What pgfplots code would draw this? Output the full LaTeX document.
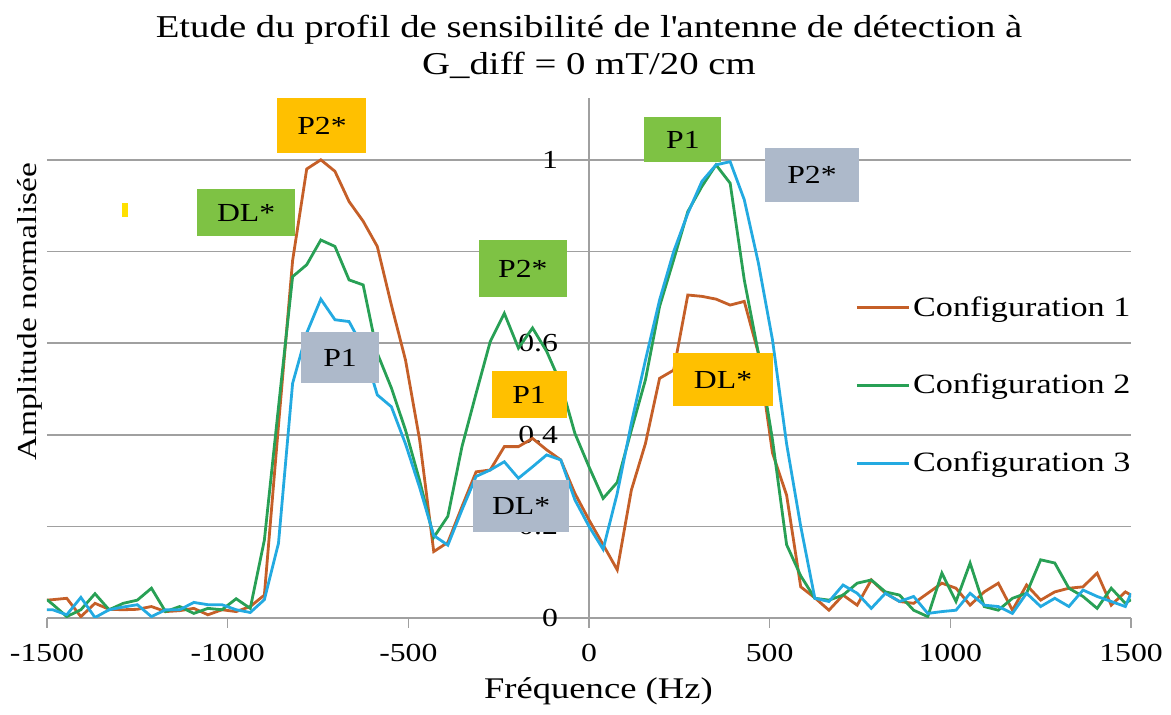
\documentclass[border=0pt]{standalone}
\usepackage{fontspec}
\setmainfont{Liberation Serif}[FakeStretch=1.22]
\usepackage{pgfplots}
\pgfplotsset{compat=1.18}
\usepackage{pgfplotstable}
\definecolor{cA}{RGB}{197,95,40}
\definecolor{cB}{RGB}{40,160,85}
\definecolor{cC}{RGB}{35,170,225}
\definecolor{bxY}{RGB}{255,192,0}
\definecolor{bxG}{RGB}{126,194,68}
\definecolor{bxS}{RGB}{173,185,202}
\definecolor{gridgray}{RGB}{160,160,160}
\definecolor{markY}{RGB}{255,224,0}

\pgfplotstableread{
x c1 c2 c3
-1500 0.039 0.040 0.018
-1484.38 0.040 0.030 0.018
-1445.31 0.043 0.003 0.007
-1406.25 0.003 0.018 0.045
-1367.19 0.032 0.053 0.001
-1328.13 0.019 0.018 0.018
-1289.06 0.018 0.032 0.024
-1250 0.019 0.039 0.029
-1210.94 0.025 0.065 0.003
-1171.88 0.014 0.014 0.018
-1132.81 0.016 0.025 0.018
-1093.75 0.021 0.010 0.034
-1054.69 0.007 0.021 0.029
-1015.63 0.018 0.018 0.029
-976.56 0.014 0.042 0.018
-937.5 0.025 0.021 0.012
-898.44 0.050 0.170 0.040
-859.38 0.420 0.460 0.163
-820.31 0.780 0.745 0.512
-781.25 0.980 0.771 0.622
-742.19 1.000 0.825 0.696
-703.13 0.975 0.811 0.651
-664.06 0.909 0.738 0.647
-625 0.866 0.727 0.590
-585.94 0.811 0.578 0.487
-546.88 0.683 0.502 0.461
-507.81 0.563 0.410 0.380
-468.75 0.389 0.300 0.285
-429.69 0.145 0.176 0.180
-390.63 0.165 0.222 0.159
-351.56 0.243 0.374 0.236
-312.5 0.319 0.490 0.309
-273.44 0.323 0.603 0.323
-234.38 0.374 0.665 0.341
-195.31 0.374 0.589 0.305
-156.25 0.392 0.633 0.330
-117.19 0.367 0.582 0.356
-78.13 0.345 0.512 0.345
-39.06 0.272 0.403 0.258
0 0.214 0.330 0.200
39.06 0.160 0.261 0.150
78.13 0.105 0.296 0.272
117.19 0.279 0.410 0.425
156.25 0.381 0.520 0.563
195.31 0.523 0.680 0.694
234.38 0.541 0.782 0.800
273.44 0.705 0.887 0.883
312.5 0.702 0.942 0.953
351.56 0.696 0.989 0.989
390.63 0.683 0.949 0.996
429.69 0.691 0.738 0.913
468.75 0.578 0.578 0.775
507.81 0.360 0.389 0.607
546.88 0.268 0.160 0.380
585.94 0.068 0.092 0.200
625 0.044 0.043 0.043
664.06 0.017 0.039 0.036
703.13 0.050 0.050 0.072
742.19 0.028 0.076 0.054
781.25 0.083 0.083 0.021
820.31 0.054 0.057 0.054
859.38 0.036 0.050 0.036
898.44 0.032 0.017 0.047
937.5 0.054 0.003 0.010
976.56 0.076 0.098 0.014
1015.63 0.065 0.036 0.017
1054.69 0.028 0.120 0.054
1093.75 0.057 0.025 0.028
1132.81 0.076 0.017 0.025
1171.88 0.017 0.043 0.010
1210.94 0.072 0.054 0.054
1250 0.039 0.127 0.025
1289.06 0.057 0.120 0.043
1328.13 0.065 0.065 0.025
1367.19 0.068 0.047 0.061
1406.25 0.098 0.021 0.047
1445.31 0.028 0.065 0.036
1484.38 0.057 0.032 0.025
1500 0.050 0.040 0.054
}\datatable

\begin{document}
\begin{tikzpicture}
\begin{axis}[
  set layers,
  width=542pt, height=260pt, scale only axis,
  xmin=-1500, xmax=1500, ymin=0, ymax=1.135,
  axis x line=bottom, axis y line=center,
  axis line style={-, draw=gridgray, line width=0.8pt},
  every inner y axis line/.append style={-},
  every inner x axis line/.append style={-},
  xtick={-1500,-1000,-500,0,500,1000,1500},
  ytick={0,0.2,0.4,0.6,0.8,1},
  hide obscured y ticks=false,
  hide obscured x ticks=false,
  xtick align=outside, major tick length=5pt,
  xtick style={draw=gridgray, line width=0.8pt},
  ytick style={draw=none},
  ymajorgrids, grid style={draw=gridgray, line width=0.8pt},
  /pgf/number format/assume math mode=true,
  /pgf/number format/set thousands separator={},
  ticklabel style={font=\fontsize{13}{15}\selectfont},
  yticklabel style={anchor=east, xshift=-9.5pt},
  xticklabel style={yshift=-4.5pt},
  every axis x label/.style={at={(axis cs:26,-0.16)}, anchor=center},
  every axis y label/.style={at={(axis cs:-1548,0.668)}, anchor=center, rotate=90},
  xlabel={Fréquence (Hz)},
  ylabel={Amplitude normalisée},
  xlabel style={font=\fontsize{15}{18}\selectfont},
  ylabel style={font=\fontsize{13.7}{16}\selectfont},
  title={Etude du profil de sensibilité de l\textquotesingle antenne de détection à\\G\_diff = 0 mT/20 cm},
  title style={align=center, font=\fontsize{15.9}{18.5}\selectfont, at={(axis cs:0,1.29)}, anchor=north, inner sep=0pt},
  legend image code/.code={\draw[#1] (0pt,0pt) -- (26pt,0pt);},
  legend cell align=left,
  legend style={at={(axis cs:736,0.703)}, anchor=north west, draw=none, fill=none, inner sep=0pt,
    font=\fontsize{14}{16}\selectfont, row sep=27.5pt,
    nodes={inner xsep=1.5pt, inner ysep=0pt}},
  every axis plot/.append style={line width=1.4pt},
]
\addplot[cA] table[x=x,y=c1] {\datatable};
\addlegendentry{Configuration 1}
\addplot[cB] table[x=x,y=c2] {\datatable};
\addlegendentry{Configuration 2}
\addplot[cC] table[x=x,y=c3] {\datatable};
\addlegendentry{Configuration 3}

\begin{scope}[every node/.style={inner sep=0pt, font=\fontsize{13}{15}\selectfont, text=black}]
\node[fill=bxY, minimum width=44.5pt, minimum height=27.5pt] at (axis cs:-739,1.074) {P2*};
\node[fill=bxG, minimum width=49pt, minimum height=23.5pt] at (axis cs:-949,0.884) {DL*};
\node[fill=bxS, minimum width=39pt, minimum height=25.5pt] at (axis cs:-689,0.568) {P1};
\node[fill=bxG, minimum width=44pt, minimum height=28.5pt] at (axis cs:-183,0.762) {P2*};
\node[fill=bxY, minimum width=37.5pt, minimum height=23.5pt] at (axis cs:-166,0.487) {P1};
\node[fill=bxS, minimum width=48pt, minimum height=26pt] at (axis cs:-188,0.245) {DL*};
\node[fill=bxG, minimum width=38.5pt, minimum height=22.5pt] at (axis cs:260,1.044) {P1};
\node[fill=bxS, minimum width=47pt, minimum height=27pt] at (axis cs:617,0.967) {P2*};
\node[fill=bxY, minimum width=50pt, minimum height=26.5pt] at (axis cs:371,0.520) {DL*};
\node[fill=markY, minimum width=3pt, minimum height=7pt] at (axis cs:-1284,0.891) {};
\end{scope}
\end{axis}
\pgfresetboundingbox
\path[use as bounding box] (-23.5pt,-48.5pt) rectangle (562pt,309pt);
\end{tikzpicture}
\end{document}
